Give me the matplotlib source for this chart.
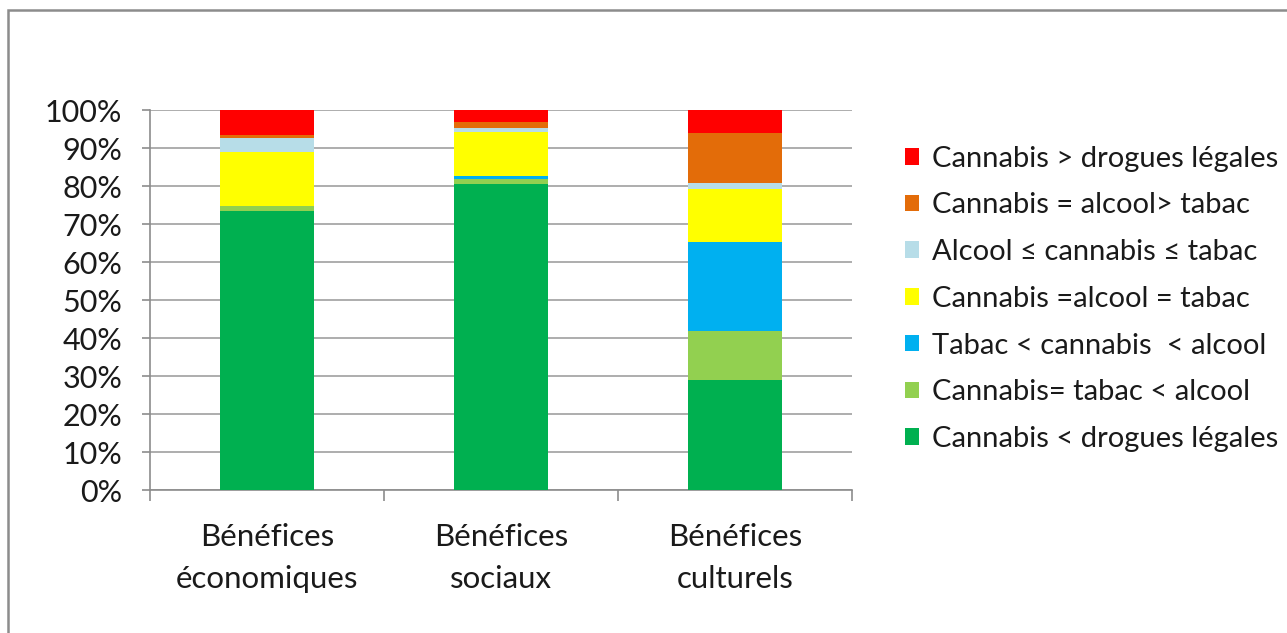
import matplotlib.pyplot as plt
from matplotlib.patches import Rectangle
import numpy as np

plt.rcParams["font.family"] = ["Lato", "DejaVu Sans"]

categories = ["Bénéfices\néconomiques", "Bénéfices\nsociaux", "Bénéfices\nculturels"]
series_names = [
    "Cannabis < drogues légales",
    "Cannabis= tabac < alcool",
    "Tabac < cannabis  < alcool",
    "Cannabis =alcool = tabac",
    "Alcool ≤ cannabis ≤ tabac",
    "Cannabis = alcool> tabac",
    "Cannabis > drogues légales",
]
# percent per category, bottom to top
cannabis_lt_legal = [73.5, 80.5, 28.9]
cannabis_eq_tabac = [1.2, 1.3, 12.9]
tabac_lt_cannabis = [0.0, 0.8, 23.4]
all_equal = [14.3, 11.6, 13.9]
alcool_le_cannabis = [3.6, 1.0, 1.6]
cannabis_eq_alcool = [0.8, 1.6, 13.2]
cannabis_gt_legal = [6.6, 3.2, 6.1]
series = [cannabis_lt_legal, cannabis_eq_tabac, tabac_lt_cannabis, all_equal,
          alcool_le_cannabis, cannabis_eq_alcool, cannabis_gt_legal]
colors = ["#00B050", "#92D050", "#00B0F0", "#FFFF00", "#B7DDE8", "#E36C09", "#FF0000"]

W, H = 1287, 633
fig = plt.figure(figsize=(W / 100, H / 100), dpi=100)
ax = fig.add_axes([150 / W, (H - 490) / H, 702 / W, 380 / H])

# chart border (top and left visible)
fig.patches.append(Rectangle((8 / W, -0.1), 1.2, (H - 10) / H + 0.1, transform=fig.transFigure,
                             fill=False, ec="#8c8c8c", lw=1.8))

x = np.arange(len(categories))
bottom = np.zeros(len(categories))
handles = []
for vals, name, c in zip(series, series_names, colors):
    b = ax.bar(x, vals, 0.40, bottom=bottom, color=c, label=name, zorder=3)
    handles.append(b)
    bottom += np.array(vals)

ax.set_xlim(-0.5, 2.5)
ax.set_ylim(0, 100)
ax.set_yticks(np.arange(0, 101, 10))
ax.set_yticklabels([f"{v}%" for v in range(0, 101, 10)], fontsize=22, color="#1a1a1a")
ax.yaxis.grid(True, color="#a0a0a0", lw=1.2, zorder=0)
ax.set_axisbelow(True)

ax.set_xticks(x)
ax.set_xticklabels(categories, fontsize=22.5, color="#1a1a1a", linespacing=1.6)
ax.set_xticks([-0.5, 0.5, 1.5, 2.5], minor=True)
ax.tick_params(axis="x", which="major", length=0, pad=24)
ax.tick_params(axis="x", which="minor", length=8, color="#8c8c8c", width=1.2)
ax.tick_params(axis="y", length=6, color="#8c8c8c", width=1.2, pad=14)

for s in ["top", "right"]:
    ax.spines[s].set_visible(False)
for s in ["left", "bottom"]:
    ax.spines[s].set_color("#8c8c8c")
    ax.spines[s].set_linewidth(1.2)

leg = ax.legend(handles[::-1], series_names[::-1], loc="upper left",
                bbox_to_anchor=(893 / W, (H - 134) / H), bbox_transform=fig.transFigure,
                frameon=False, fontsize=21, handlelength=0.5, handleheight=0.5,
                handletextpad=0.45, labelspacing=0.71, borderaxespad=0)
for t in leg.get_texts():
    t.set_color("#1a1a1a")

fig.savefig("out.png", dpi=100)
